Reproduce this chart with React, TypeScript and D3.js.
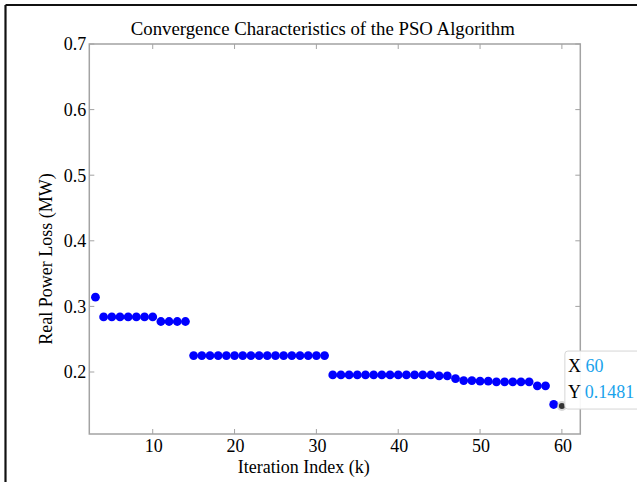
import React from "react";
import * as d3 from "d3";

const iterations = [
  3, 4, 5, 6, 7, 8, 9, 10, 11, 12, 13, 14, 15, 16, 17, 18, 19, 20, 21, 22, 23, 24, 25, 26, 27, 28, 29, 30, 31,
  32, 33, 34, 35, 36, 37, 38, 39, 40, 41, 42, 43, 44, 45, 46, 47, 48, 49, 50, 51, 52, 53, 54, 55, 56, 57, 58, 59, 60,
];
const losses = [
  0.314,
  0.284, 0.284, 0.284, 0.284, 0.284, 0.284, 0.284,
  0.277, 0.277, 0.277, 0.277,
  0.225, 0.225, 0.225, 0.225, 0.225, 0.225, 0.225, 0.225, 0.225, 0.225, 0.225, 0.225, 0.225, 0.225, 0.225, 0.225, 0.225,
  0.1955, 0.1955, 0.1955, 0.1955, 0.1955, 0.1955, 0.1955, 0.1955, 0.1955, 0.1955, 0.1955, 0.1955, 0.1955,
  0.194, 0.194,
  0.19,
  0.187, 0.187, 0.186, 0.186, 0.185, 0.185, 0.185, 0.185, 0.185,
  0.179, 0.179,
  0.1505,
  0.1481,
];
const xTicks = [10, 20, 30, 40, 50, 60];
const yTicks = [0.2, 0.3, 0.4, 0.5, 0.6, 0.7];
const titleText = "Convergence Characteristics of the PSO Algorithm";
const xLabel = "Iteration Index (k)";
const yLabel = "Real Power Loss (MW)";
const hoverIndex = 57;

export default function App() {
  const W = 637, H = 482;
  const L = 89.3, R = 580.3, T = 44, B = 434;
  const x = d3.scaleLinear().domain([2.25, 62.25]).range([L, R]);
  const y = d3.scaleLinear().domain([0.1055, 0.7]).range([B, T]);
  const font = "'Liberation Serif', 'Times New Roman', serif";
  const axisColor = "#a3a3a3";
  const tl = 5;
  const hx = x(iterations[hoverIndex]);
  const hy = y(losses[hoverIndex]);
  return (
    <svg width={W} height={H} style={{ position: "absolute", left: 0, top: 0, background: "#fff" }} fontFamily={font}>
      <rect x={0} y={0} width={W} height={H} fill="#fff" />
      {/* outer frame */}
      <line x1={5.5} y1={5} x2={W} y2={5} stroke="#111" strokeWidth={2.2} />
      <line x1={5.5} y1={5} x2={5.5} y2={H} stroke="#111" strokeWidth={2.2} />
      <text x={(L + R) / 2 - 12} y={35} textAnchor="middle" fontSize={18.8} fill="#000">{titleText}</text>
      {/* box */}
      <rect x={L} y={T} width={R - L} height={B - T} fill="none" stroke={axisColor} strokeWidth={1.5} />
      {xTicks.map((t) => (
        <g key={"x" + t}>
          <line x1={x(t)} x2={x(t)} y1={B} y2={B - tl} stroke={axisColor} strokeWidth={1} />
          <line x1={x(t)} x2={x(t)} y1={T} y2={T + tl} stroke={axisColor} strokeWidth={1} />
          <text x={x(t) + 1} y={452} textAnchor="middle" fontSize={18} fill="#000">{t}</text>
        </g>
      ))}
      {yTicks.map((t) => (
        <g key={"y" + t}>
          <line x1={L} x2={L + tl} y1={y(t)} y2={y(t)} stroke={axisColor} strokeWidth={1} />
          <line x1={R} x2={R - tl} y1={y(t)} y2={y(t)} stroke={axisColor} strokeWidth={1} />
          <text x={L - 3} y={y(t)} dy="0.35em" textAnchor="end" fontSize={18} fill="#000">{d3.format(".1f")(t)}</text>
        </g>
      ))}
      <text x={(L + R) / 2 - 31} y={473} textAnchor="middle" fontSize={18} fill="#000">{xLabel}</text>
      <text transform={`translate(52, 259) rotate(-90)`} textAnchor="middle" fontSize={18} fill="#000">{yLabel}</text>
      {/* points */}
      {iterations.map((k, i) =>
        i === hoverIndex ? null : (
          <circle key={k} cx={x(k)} cy={y(losses[i])} r={4.4} fill="#0000ff" />
        )
      )}
      {/* hover marker */}
      <circle cx={hx} cy={hy} r={5} fill="#bbb" opacity={0.6} />
      <circle cx={hx} cy={hy} r={3} fill="#333" />
      {/* tooltip */}
      <g>
        <rect x={hx + 3} y={hy - 55} width={90} height={58} rx={3} fill="#fff" fillOpacity={0.92} stroke="#d6d6d6" strokeWidth={1} />
        <text x={hx + 6} y={hy - 34} fontSize={18}>
          <tspan fill="#000">X </tspan>
          <tspan fill="#1aa3ec">{iterations[hoverIndex]}</tspan>
        </text>
        <text x={hx + 6} y={hy - 8} fontSize={18}>
          <tspan fill="#000">Y </tspan>
          <tspan fill="#1aa3ec">{losses[hoverIndex]}</tspan>
        </text>
      </g>
    </svg>
  );
}
